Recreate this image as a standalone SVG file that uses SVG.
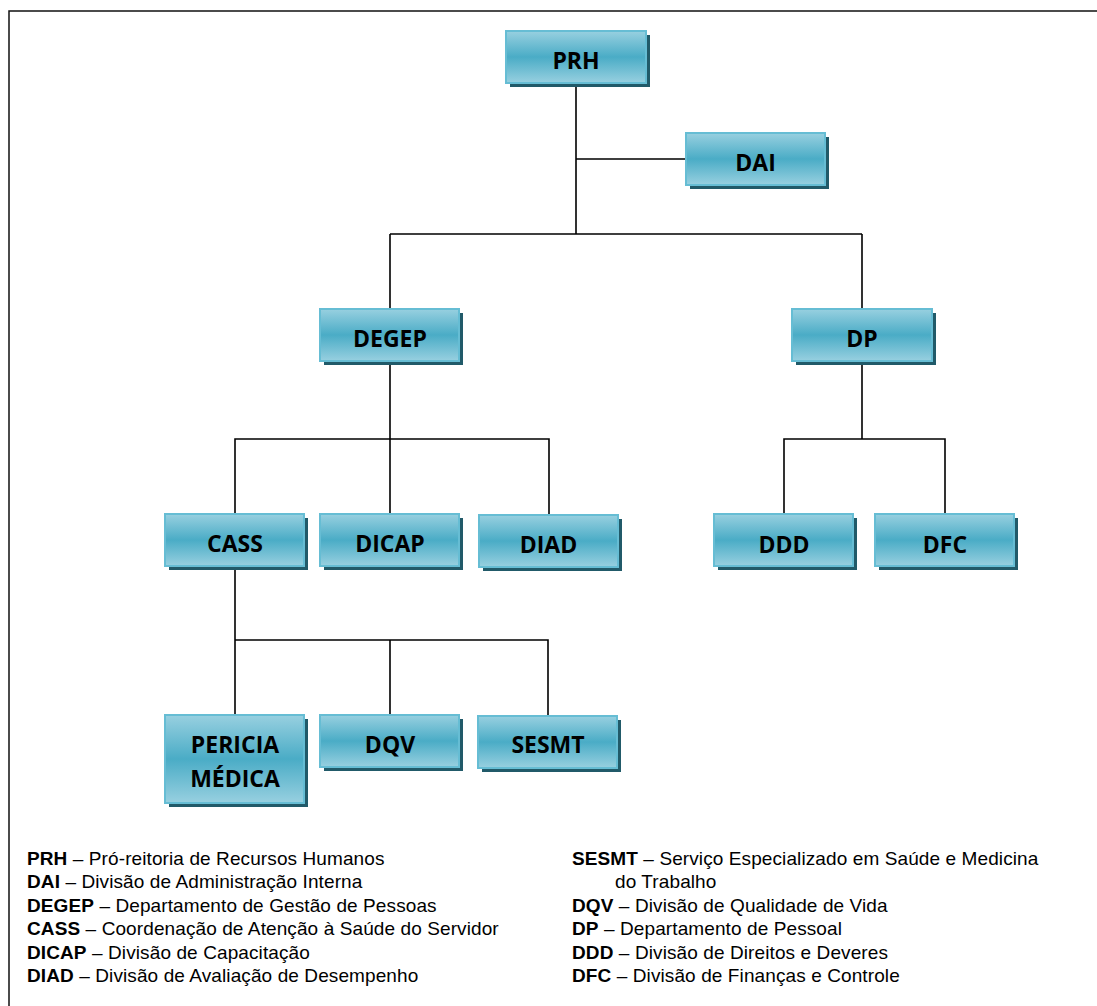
<svg xmlns="http://www.w3.org/2000/svg" width="1097" height="1006" viewBox="0 0 1097 1006">
  <defs>
    <linearGradient id="boxGrad" x1="0" y1="0" x2="0" y2="1">
      <stop offset="0" stop-color="#98d0e0"/>
      <stop offset="0.5" stop-color="#4aacc6"/>
      <stop offset="1" stop-color="#98d0e0"/>
    </linearGradient>
  </defs>
  <style>
    .shadow { fill: #215a69; }
    .box { fill: url(#boxGrad); stroke: #66bdd4; stroke-width: 2; }
    .lbl { font-family: "Open Sans", "Noto Sans", sans-serif; font-weight: bold; font-size: 23px; fill: #000; text-anchor: middle; }
    .conn { stroke: #000; stroke-width: 1.6; fill: none; }
    .leg { font-family: "Liberation Sans", Arial, sans-serif; font-size: 19px; letter-spacing: 0.1px; fill: #000; }
    .leg tspan.b { font-weight: bold; }
  </style>
  <rect x="9" y="11" width="1100" height="1010" fill="#fff" stroke="#111" stroke-width="1.5"/>

  <g id="connectors">
    <path class="conn" d="M576 83 V234 M576 159 H686 M390 234 H862 M390 234 V309 M862 234 V309"/>
    <path class="conn" d="M390 361 V439 M235 514 V439 H549 V514 M390 439 V514"/>
    <path class="conn" d="M862 361 V439 M784 514 V439 H945 V514"/>
    <path class="conn" d="M235 566 V640 M235 640 V715 M235 640 H548 V716 M390 640 V715"/>
  </g>

  <g id="node-PRH">
    <rect class="shadow" x="510" y="35" width="140" height="52"/>
    <rect class="box" x="506" y="31" width="140" height="52"/>
    <text class="lbl" x="576" y="69">PRH</text>
  </g>
  <g id="node-DAI">
    <rect class="shadow" x="690" y="137" width="139" height="52"/>
    <rect class="box" x="686" y="133" width="139" height="52"/>
    <text class="lbl" x="755.5" y="171">DAI</text>
  </g>
  <g id="node-DEGEP">
    <rect class="shadow" x="324" y="313" width="139" height="52"/>
    <rect class="box" x="320" y="309" width="139" height="52"/>
    <text class="lbl" x="390" y="347">DEGEP</text>
  </g>
  <g id="node-DP">
    <rect class="shadow" x="796" y="313" width="140" height="52"/>
    <rect class="box" x="792" y="309" width="140" height="52"/>
    <text class="lbl" x="862" y="347">DP</text>
  </g>
  <g id="node-CASS">
    <rect class="shadow" x="169" y="518" width="139" height="52"/>
    <rect class="box" x="165" y="514" width="139" height="52"/>
    <text class="lbl" x="235" y="552">CASS</text>
  </g>
  <g id="node-DICAP">
    <rect class="shadow" x="324" y="518" width="139" height="52"/>
    <rect class="box" x="320" y="514" width="139" height="52"/>
    <text class="lbl" x="390" y="552">DICAP</text>
  </g>
  <g id="node-DIAD">
    <rect class="shadow" x="483" y="519" width="139" height="52"/>
    <rect class="box" x="479" y="515" width="139" height="52"/>
    <text class="lbl" x="548.5" y="553">DIAD</text>
  </g>
  <g id="node-DDD">
    <rect class="shadow" x="718" y="518" width="139" height="52"/>
    <rect class="box" x="714" y="514" width="139" height="52"/>
    <text class="lbl" x="784" y="553">DDD</text>
  </g>
  <g id="node-DFC">
    <rect class="shadow" x="879" y="518" width="139" height="52"/>
    <rect class="box" x="875" y="514" width="139" height="52"/>
    <text class="lbl" x="945" y="553">DFC</text>
  </g>
  <g id="node-PERICIA">
    <rect class="shadow" x="169" y="719" width="139" height="88"/>
    <rect class="box" x="165" y="715" width="139" height="88"/>
    <text class="lbl" x="235" y="753">PERICIA</text>
    <text class="lbl" x="235" y="787">MÉDICA</text>
  </g>
  <g id="node-DQV">
    <rect class="shadow" x="324" y="719" width="139" height="52"/>
    <rect class="box" x="320" y="715" width="139" height="52"/>
    <text class="lbl" x="390" y="753">DQV</text>
  </g>
  <g id="node-SESMT">
    <rect class="shadow" x="482" y="720" width="139" height="52"/>
    <rect class="box" x="478" y="716" width="139" height="52"/>
    <text class="lbl" x="548" y="753">SESMT</text>
  </g>

  <g id="legend">
    <text class="leg" x="27" y="865"><tspan class="b">PRH</tspan> – Pró-reitoria de Recursos Humanos</text>
    <text class="leg" x="27" y="888.4"><tspan class="b">DAI</tspan> – Divisão de Administração Interna</text>
    <text class="leg" x="27" y="911.8"><tspan class="b">DEGEP</tspan> – Departamento de Gestão de Pessoas</text>
    <text class="leg" x="27" y="935.2"><tspan class="b">CASS</tspan> – Coordenação de Atenção à Saúde do Servidor</text>
    <text class="leg" x="27" y="958.6"><tspan class="b">DICAP</tspan> – Divisão de Capacitação</text>
    <text class="leg" x="27" y="982"><tspan class="b">DIAD</tspan> – Divisão de Avaliação de Desempenho</text>
    <text class="leg" x="572" y="865"><tspan class="b">SESMT</tspan> – Serviço Especializado em Saúde e Medicina</text>
    <text class="leg" x="615" y="888.4">do Trabalho</text>
    <text class="leg" x="572" y="911.8"><tspan class="b">DQV</tspan> – Divisão de Qualidade de Vida</text>
    <text class="leg" x="572" y="935.2"><tspan class="b">DP</tspan> – Departamento de Pessoal</text>
    <text class="leg" x="572" y="958.6"><tspan class="b">DDD</tspan> – Divisão de Direitos e Deveres</text>
    <text class="leg" x="572" y="982"><tspan class="b">DFC</tspan> – Divisão de Finanças e Controle</text>
  </g>
</svg>
